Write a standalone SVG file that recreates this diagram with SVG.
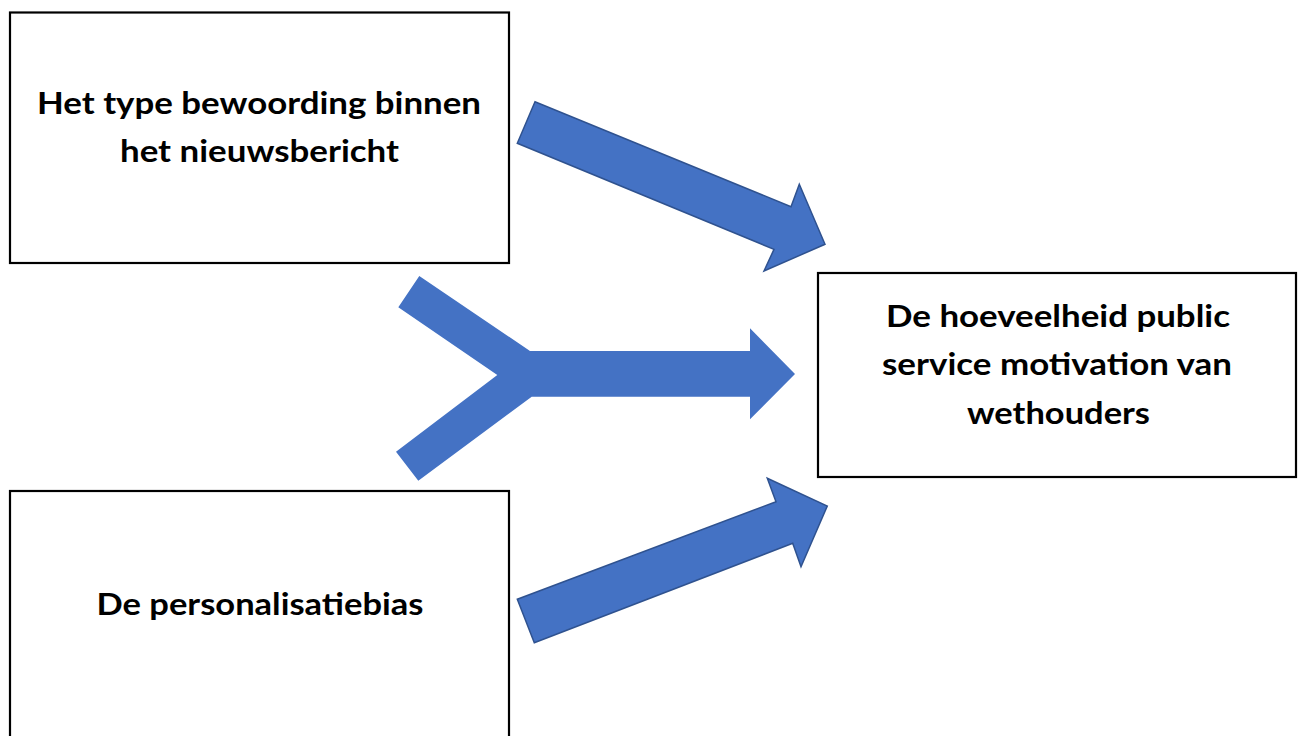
<svg xmlns="http://www.w3.org/2000/svg" width="1301" height="736" viewBox="0 0 1301 736">
<style>
.box{fill:#fff;stroke:#000;stroke-width:2.2}
.lbl{font-family:Lato,"Open Sans","Liberation Sans",sans-serif;font-weight:bold;font-size:31px;fill:#000;text-anchor:middle}
.arr{fill:#4472C4;stroke:#2F528F;stroke-width:1.5;stroke-linejoin:miter}
.merge{fill:#4472C4}
</style>
<rect width="1301" height="736" fill="#fff"/>
<g id="connectors">
<polygon class="arr" points="535,101.7 517.3,143.3 774,249.3 764,271 825,244.3 799.3,184.3 791,206.7"/>
<polygon class="merge" points="419.3,276 398.3,307.3 497.3,375 396,451.7 418.3,480.7 531.7,396.7 750,396.7 750,419.3 795,374 750,328.3 750,351 530,351"/>
<polygon class="arr" points="534.3,642.7 517.3,599.3 776,501.7 767.3,478.3 827.3,506 801,566.7 792.7,543.3"/>
</g>
<g id="node-bewoording">
<rect class="box" x="10" y="12.5" width="499" height="250.5"/>
<text class="lbl" x="259" y="114" textLength="444" lengthAdjust="spacingAndGlyphs">Het type bewoording binnen</text>
<text class="lbl" x="259.5" y="162" textLength="279" lengthAdjust="spacingAndGlyphs">het nieuwsbericht</text>
</g>
<g id="node-psm">
<rect class="box" x="818" y="273" width="478" height="204"/>
<text class="lbl" x="1058" y="327" textLength="344" lengthAdjust="spacingAndGlyphs">De hoeveelheid public</text>
<text class="lbl" x="1057" y="375" textLength="350" lengthAdjust="spacingAndGlyphs">service motivation van</text>
<text class="lbl" x="1058.5" y="424" textLength="183" lengthAdjust="spacingAndGlyphs">wethouders</text>
</g>
<g id="node-personalisatiebias">
<rect class="box" x="10" y="491" width="499" height="260"/>
<text class="lbl" x="260" y="615" textLength="327" lengthAdjust="spacingAndGlyphs">De personalisatiebias</text>
</g>
</svg>
